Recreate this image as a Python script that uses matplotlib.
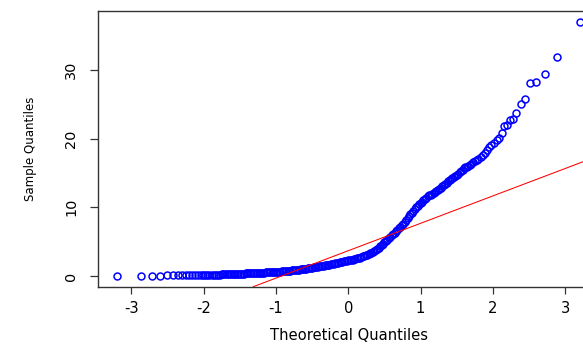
import numpy as np
import matplotlib.pyplot as plt

plt.rcParams["font.family"] = ["DejaVu Sans"]
plt.rcParams["axes.unicode_minus"] = False

# normal QQ plot (theoretical, sample)
theo = [
    -3.20, -2.87, -2.71, -2.60, -2.51, -2.43, -2.36, -2.30, -2.25, -2.20,
    -2.16, -2.12, -2.08, -2.04, -2.01, -1.98, -1.95, -1.92, -1.89, -1.86,
    -1.83, -1.80, -1.78, -1.75, -1.73, -1.70, -1.68, -1.66, -1.64, -1.62,
    -1.60, -1.58, -1.56, -1.54, -1.52, -1.50, -1.48, -1.46, -1.44, -1.42,
    -1.40, -1.38, -1.36, -1.34, -1.32, -1.30, -1.28, -1.26, -1.24, -1.22,
    -1.20, -1.18, -1.16, -1.14, -1.12, -1.10, -1.08, -1.06, -1.04, -1.02,
    -1.00, -0.98, -0.96, -0.94, -0.92, -0.90, -0.88, -0.86, -0.84, -0.82,
    -0.80, -0.78, -0.76, -0.74, -0.72, -0.70, -0.68, -0.66, -0.64, -0.62,
    -0.60, -0.58, -0.56, -0.54, -0.52, -0.50, -0.48, -0.46, -0.44, -0.42,
    -0.40, -0.38, -0.36, -0.34, -0.32, -0.30, -0.28, -0.26, -0.24, -0.22,
    -0.20, -0.18, -0.16, -0.14, -0.12, -0.10, -0.08, -0.06, -0.04, -0.02,
    0.00, 0.02, 0.04, 0.06, 0.08, 0.10, 0.12, 0.14, 0.16, 0.18,
    0.20, 0.22, 0.24, 0.26, 0.28, 0.30, 0.32, 0.34, 0.36, 0.38,
    0.40, 0.42, 0.44, 0.46, 0.48, 0.50, 0.52, 0.54, 0.56, 0.58,
    0.60, 0.62, 0.64, 0.66, 0.68, 0.70, 0.72, 0.74, 0.76, 0.78,
    0.80, 0.82, 0.84, 0.86, 0.88, 0.90, 0.92, 0.94, 0.96, 0.98,
    1.00, 1.02, 1.04, 1.06, 1.08, 1.10, 1.12, 1.14, 1.16, 1.18,
    1.20, 1.22, 1.24, 1.26, 1.28, 1.30, 1.32, 1.34, 1.36, 1.38,
    1.40, 1.42, 1.44, 1.46, 1.48, 1.50, 1.52, 1.54, 1.56, 1.58,
    1.60, 1.62, 1.64, 1.66, 1.68, 1.70, 1.73, 1.75, 1.78, 1.80,
    1.83, 1.86, 1.89, 1.92, 1.95, 1.98, 2.01, 2.05, 2.09, 2.12,
    2.16, 2.20, 2.23, 2.28, 2.32, 2.39, 2.44, 2.51, 2.60, 2.72,
    2.89, 3.20,
]
sample = [
    0.03, 0.05, 0.06, 0.07, 0.08, 0.09, 0.10, 0.10, 0.11, 0.12,
    0.12, 0.13, 0.14, 0.14, 0.15, 0.16, 0.16, 0.17, 0.18, 0.19,
    0.19, 0.20, 0.21, 0.22, 0.22, 0.23, 0.24, 0.25, 0.26, 0.26,
    0.27, 0.28, 0.29, 0.30, 0.31, 0.33, 0.34, 0.35, 0.36, 0.37,
    0.38, 0.39, 0.40, 0.41, 0.42, 0.43, 0.44, 0.45, 0.46, 0.47,
    0.48, 0.49, 0.50, 0.51, 0.52, 0.53, 0.54, 0.55, 0.56, 0.57,
    0.59, 0.61, 0.63, 0.65, 0.67, 0.69, 0.71, 0.73, 0.75, 0.77,
    0.79, 0.81, 0.83, 0.86, 0.88, 0.90, 0.92, 0.95, 0.97, 1.00,
    1.03, 1.06, 1.10, 1.13, 1.17, 1.20, 1.24, 1.27, 1.31, 1.35,
    1.39, 1.43, 1.47, 1.51, 1.55, 1.59, 1.63, 1.67, 1.71, 1.76,
    1.80, 1.85, 1.90, 1.94, 1.98, 2.03, 2.07, 2.12, 2.16, 2.21,
    2.26, 2.30, 2.35, 2.39, 2.44, 2.50, 2.56, 2.62, 2.69, 2.76,
    2.84, 2.92, 3.01, 3.10, 3.20, 3.30, 3.41, 3.53, 3.66, 3.80,
    3.95, 4.12, 4.30, 4.50, 4.70, 4.90, 5.10, 5.30, 5.50, 5.70,
    5.90, 6.10, 6.30, 6.50, 6.70, 6.92, 7.15, 7.38, 7.62, 7.88,
    8.15, 8.42, 8.70, 8.97, 9.24, 9.50, 9.75, 9.98, 10.20, 10.42,
    10.62, 10.82, 11.02, 11.22, 11.42, 11.58, 11.72, 11.85, 11.98, 12.10,
    12.25, 12.40, 12.56, 12.72, 12.88, 13.05, 13.22, 13.40, 13.58, 13.76,
    13.93, 14.10, 14.27, 14.44, 14.60, 14.75, 14.92, 15.10, 15.30, 15.50,
    15.68, 15.80, 15.92, 16.04, 16.20, 16.35, 16.55, 16.70, 16.95, 17.10,
    17.30, 17.55, 17.95, 18.40, 18.75, 19.00, 19.30, 19.75, 20.13, 20.80,
    21.83, 21.95, 22.70, 22.80, 23.77, 24.99, 25.76, 28.14, 28.30, 29.45,
    31.88, 37.00,
]

# qqline (through the quartiles)
line_intercept = 3.68
line_slope = 3.99

xticks = [-3, -2, -1, 0, 1, 2, 3]
yticks = [0, 10, 20, 30]

fig = plt.figure(figsize=(5.83, 3.44), dpi=100)
# the plot box runs past the right edge of the picture
ax = fig.add_axes([0.1686, 0.1666, 0.8575, 0.8023])

# thick-ish rings so the dense middle turns into a solid band, like R's output
ax.plot(theo, sample, linestyle="none", marker="o", markersize=5.0,
        markerfacecolor="none", markeredgecolor="#0000ff", markeredgewidth=1.1)
ax.axline((0, line_intercept), slope=line_slope, color="#ff0000", lw=0.75)

ax.set_xlim(-3.456, 3.456)
ax.set_ylim(-1.557, 38.62)
ax.set_xticks(xticks)
ax.set_yticks(yticks)

for side in ["left", "top", "bottom"]:
    ax.spines[side].set_color("#333333")
    ax.spines[side].set_linewidth(1.0)
ax.spines["right"].set_visible(False)

ax.tick_params(axis="x", length=5, width=0.9, color="#333333", pad=5.5,
               labelsize=10.6)
ax.tick_params(axis="y", length=6, width=0.9, color="#333333", pad=8.5,
               labelsize=10.4, labelrotation=90)
for lab in ax.get_yticklabels():
    lab.set_va("center")

fig.text(348.5 / 583, 1.0 / 344, "Theoretical Quantiles", ha="center",
         va="bottom", fontsize=10.6)
fig.text(30.8 / 583, 1 - 148.7 / 344, "Sample Quantiles", ha="center",
         va="center", rotation=90, fontsize=8.5)

fig.savefig("out.png", dpi=100)
